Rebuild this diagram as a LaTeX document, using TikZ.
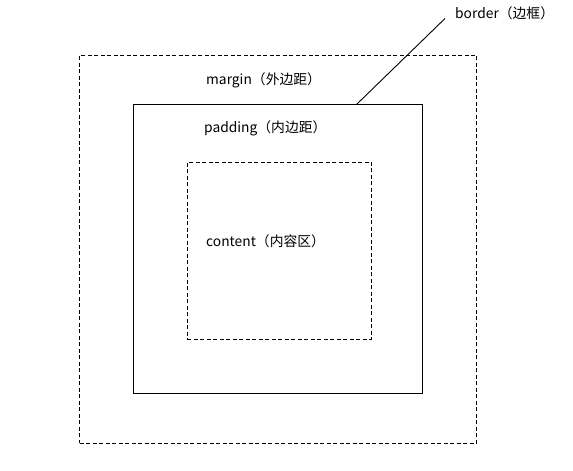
\documentclass[tikz,border=0pt]{standalone}
\usepackage{fontspec}
\setmainfont{Noto Sans CJK SC}
\usepackage{tikz}
\usetikzlibrary{positioning}

\tikzset{
    boxline/.style={draw, line width=0.9pt, inner sep=0pt},
    dashline/.style={boxline, dash pattern=on 4pt off 2.5pt},
    labeltext/.style={anchor=west, inner sep=0pt, font=\fontsize{13.8}{16}\selectfont}
}

\begin{document}
\begin{tikzpicture}[x=1pt, y=-1pt]
    \useasboundingbox[fill=white] (0,0) rectangle (573,471);

    % Define boxes
    \node[dashline, minimum width=397pt, minimum height=388pt] (margin) at (278.1,249.3) {};
    \node[boxline, minimum width=289.4pt, minimum height=288.7pt] (border) at (278,248.7) {};
    \node[dashline, minimum width=184.4pt, minimum height=176.7pt] (content) at (279.5,250.7) {};

    % Labels
    \node[labeltext] (marginlabel) at (206,80.5) {margin（外边距）};
    \node[labeltext] (paddinglabel) at (204,128.5) {padding（内边距）};
    \node[labeltext] (contentlabel) at (206,241.5) {content（内容区）};
    \node[labeltext] (borderlabel) at (455,13.5) {border（边框）};

    % Pointer
    \coordinate (pointstart) at (356.7,104.3);
    \coordinate (pointend) at (445,18.5);
    \draw[line width=0.9pt] (pointstart) -- (pointend);
\end{tikzpicture}
\end{document}
